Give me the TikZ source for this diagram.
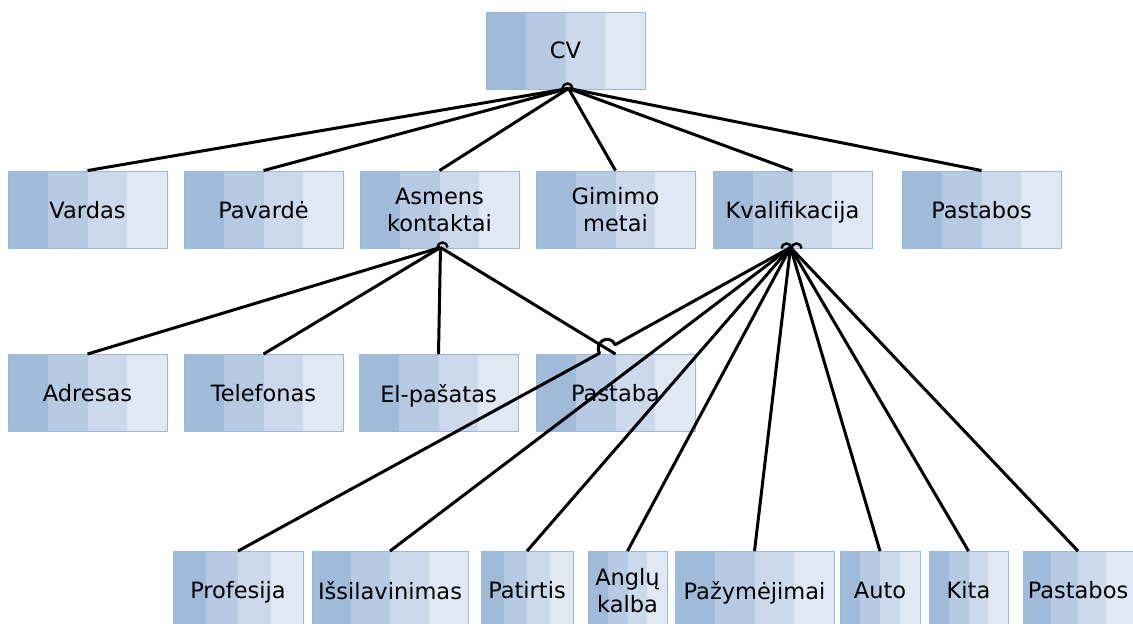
\documentclass[tikz,border=0pt]{standalone}
\usepackage{fontspec}
\setmainfont{DejaVu Sans}
\usetikzlibrary{calc}
\definecolor{stripeA}{HTML}{A0BAD9}
\definecolor{stripeB}{HTML}{B6CBE3}
\definecolor{stripeC}{HTML}{CBD9EA}
\definecolor{stripeD}{HTML}{E0E8F3}
\definecolor{boxedge}{HTML}{9CB7D9}
\tikzset{
  stripebox/.style={draw=boxedge, line width=0.9pt, inner sep=0pt,
    minimum height=77pt, minimum width=159pt, align=center,
    text depth=0pt, font=\fontsize{22.5}{27}\selectfont,
    path picture={
      \foreach \i/\c in {0/stripeA,1/stripeB,2/stripeC,3/stripeD}{
        \fill[\c] ($(path picture bounding box.north west)!{\i/4}!(path picture bounding box.north east)$)
          rectangle ($(path picture bounding box.south west)!{(\i+1)/4}!(path picture bounding box.south east)$);
      }
    }},
  conn/.style={line width=3pt, line join=round, line cap=butt},
  hop/.style={line width=2.4pt}
}
\begin{document}
\begin{tikzpicture}[x=1pt,y=-1pt]
\useasboundingbox (0,0) rectangle (1133,624);
\clip (0,0) rectangle (1133,624);

% top level
\node[stripebox] (cv) at (565.5,50.5) {CV};

% second level
\node[stripebox] (vardas)  at (87.5,209.5)  {Vardas};
\node[stripebox] (pavarde) at (263.5,209.5) {Pavardė};
\node[stripebox] (asmens)  at (439.5,209.5) {Asmens\\kontaktai};
\node[stripebox] (gimimo)  at (615.5,209.5) {Gimimo\\metai};
\node[stripebox] (kval)    at (792.5,209.5) {Kvalifikacija};
\node[stripebox] (pastA)   at (981.5,209.5) {Pastabos};

% contacts
\node[stripebox] (adresas) at (87.5,393)  {Adresas};
\node[stripebox] (telef)   at (263.5,393) {Telefonas};
\node[stripebox] (elpast)  at (438.5,393) {El-pašatas};
\node[stripebox] (pastaba) at (615.5,393) {Pastaba};

% qualification
\node[stripebox, minimum width=130pt] (prof)  at (238,590)    {Profesija};
\node[stripebox, minimum width=156pt] (issil) at (390,590)    {Išsilavinimas};
\node[stripebox, minimum width=92pt]  (patir) at (527,590)    {Patirtis};
\node[stripebox, minimum width=79pt]  (angl)  at (627.5,590)  {Anglų\\kalba};
\node[stripebox, minimum width=159pt] (pazym) at (754.5,590)  {Pažymėjimai};
\node[stripebox, minimum width=80pt]  (auto)  at (880,590)    {Auto};
\node[stripebox, minimum width=79pt]  (kita)  at (968.5,590)  {Kita};
\node[stripebox, minimum width=110pt] (pastB) at (1078,590)   {Pastabos};

% connector hubs
\coordinate (cvhub) at ($(cv.south)+(3,-1)$);
\coordinate (ashub) at ($(asmens.south)+(1,-1)$);
\coordinate (kvhub) at ($(kval.south)+(-2,-1)$);

\foreach \t in {vardas,pavarde,asmens,gimimo,kval,pastA}
  \draw[conn] (cvhub) -- (\t.north);
\foreach \t in {adresas,telef,elpast,pastaba}
  \draw[conn] (ashub) -- (\t.north);
\foreach \t in {issil,patir,angl,pazym,auto,kita,pastB}
  \draw[conn] (kvhub) -- (\t.north);

% line jump where the Profesija connector crosses the Pastaba one
\coordinate (jumpA) at (615.2,344.7);
\coordinate (jumpB) at (599.4,353.3);
\draw[conn] (kvhub) -- (jumpA)
  .. controls (609.5,333.2) and (593.7,341.8) .. (jumpB) -- (prof.north);

% small line jumps at the hubs
\draw[hop] ($(cvhub)+(-6,0)$) arc[start angle=180,end angle=360,radius=5];
\draw[hop] ($(ashub)+(-3,0)$) arc[start angle=180,end angle=360,radius=5];
\draw[hop] ($(kvhub)+(-9,1)$) arc[start angle=180,end angle=360,radius=5];
\draw[hop] ($(kvhub)+(1,1)$) arc[start angle=180,end angle=360,radius=5];
\end{tikzpicture}
\end{document}
